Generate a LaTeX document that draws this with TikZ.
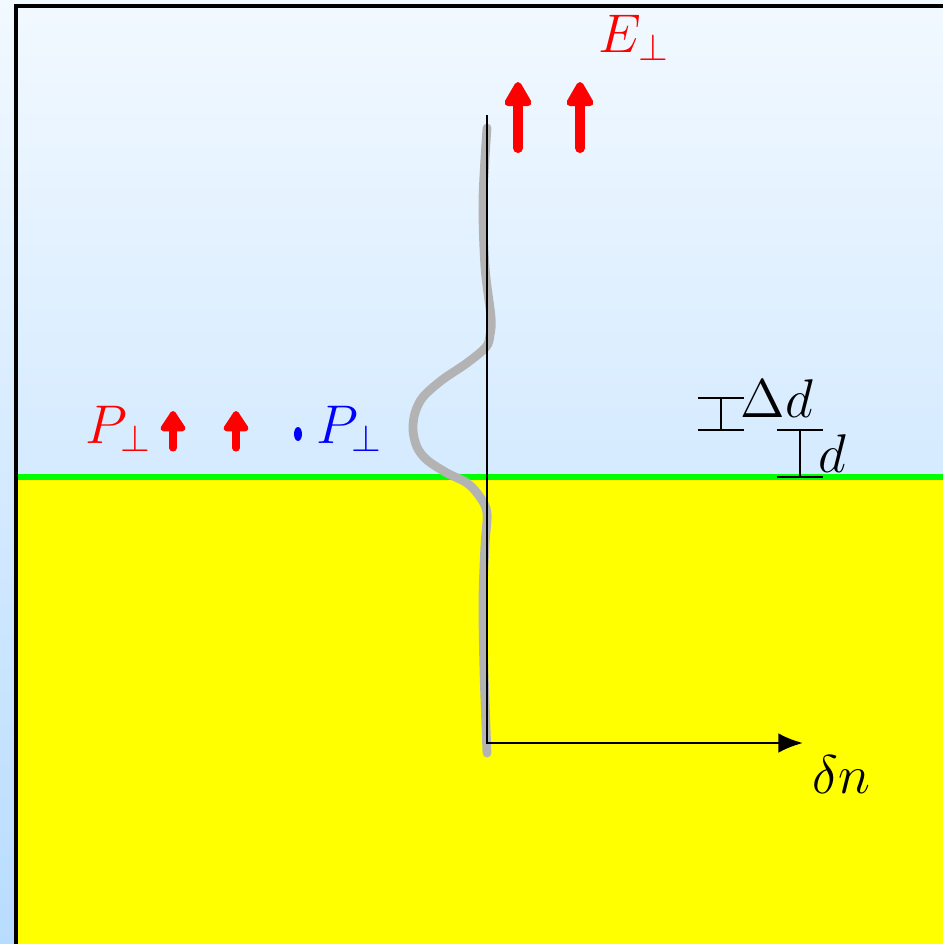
\RequirePackage{fix-cm}
\documentclass[tikz,border=0pt]{standalone}
\usetikzlibrary{arrows.meta,positioning}
\definecolor{skytop}{HTML}{F2F9FF}
\definecolor{skybottom}{HTML}{B8DCFF}
\definecolor{profilegray}{HTML}{B3B3B3}
\definecolor{substrate}{RGB}{255,255,0}

\begin{document}
\begin{tikzpicture}[x=0.01cm, y=-0.01cm,
    symb/.style={font=\fontsize{15.5}{18}\selectfont, inner sep=0pt, anchor=base west},
    field/.style={-{Triangle[round, length=8pt, width=8.5pt]}, line width=2.85pt, line cap=round, red},
    pol/.style={-{Triangle[round, length=6.5pt, width=8pt]}, line width=2pt, line cap=round, red},
    bar/.style={line width=0.65pt},
]
    \useasboundingbox (0,0) rectangle (943,944);

    % Background, substrate and interface
    \fill[top color=skytop, bottom color=skybottom] (0,0) rectangle (943,944);
    \fill[substrate] (17,477) rectangle (943,944);
    \draw[green, line width=1.7pt] (14,477) -- (943,477);
    \draw[line width=0.9pt] (16,944) -- (16,6) -- (943,6);

    % Density profile and axes
    \draw[profilegray, line width=2.5pt, line cap=round] plot[smooth, tension=0.55] coordinates {
        (487,128) (483,200) (485,267) (491,317) (490,335) (486,347) (467,363)
        (442,380) (423,397) (415,413) (413,430) (417,447) (427,460) (447,473)
        (467,483) (480,497) (487,513) (485,545) (483,600) (484,670) (487,753)};
    \coordinate (axtop) at (487,115);
    \coordinate (origin) at (487,743);
    \coordinate (axend) at (803,743);
    \draw[line width=0.7pt, -{Latex[length=7pt, width=5.6pt]}] (axtop) -- (origin) -- (axend);
    \node[symb] (dn) at (812,793) {$\delta n$};

    % Field
    \draw[field] (518,148) -- (518,82);
    \draw[field] (580,148) -- (580,82);
    \node[symb, red] (efield) at (598,52) {$E_\perp$};

    % Polarisation
    \node[symb, red] (pnorm) at (85,443) {$P_\perp$};
    \draw[pol] (173,448) -- (173,411);
    \draw[pol] (236,448) -- (236,411);
    \fill[blue] (298,434) ellipse (4 and 7);
    \node[symb, blue] (pplane) at (316,443) {$P_\perp$};

    % Thicknesses
    \draw[bar] (698,398) -- (744,398) (721,398) -- (721,430) (698,430) -- (744,430);
    \node[symb] (deltad) at (740,417) {$\Delta d$};
    \draw[bar] (777,430) -- (823,430) (800,430) -- (800,477) (777,477) -- (823,477);
    \node[symb] (dthick) at (818,472) {$d$};
\end{tikzpicture}
\end{document}
